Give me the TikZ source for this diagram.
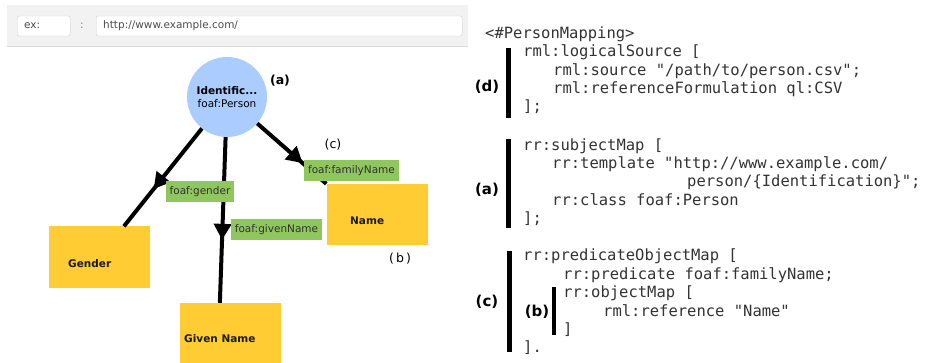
\documentclass[tikz,border=0pt]{standalone}
\usepackage{fontspec}
\setmainfont{DejaVu Sans}
\newfontfamily\codefont{DejaVu Sans Mono}
\usetikzlibrary{arrows.meta,decorations.markings,calc}

\definecolor{classblue}{RGB}{170,204,255}
\definecolor{propgreen}{RGB}{143,198,94}
\definecolor{fieldyellow}{RGB}{255,204,51}
\definecolor{barbg}{RGB}{242,242,242}

\begin{document}
\begin{tikzpicture}[
    x=1pt, y=-1pt,
    classnode/.style={circle, fill=classblue, minimum size=80pt, inner sep=0pt, align=center, font=\fontsize{10.5}{12.5}\selectfont},
    fieldbox/.style={rectangle, fill=fieldyellow, minimum width=101pt, minimum height=61pt, inner sep=0pt},
    fieldtext/.style={font=\fontsize{10.5}{12}\selectfont\bfseries, text=black!90, inner sep=0pt, anchor=west},
    prop/.style={rectangle, fill=propgreen, inner xsep=4pt, minimum height=21pt, font=\fontsize{10.5}{12}\selectfont, text=black!80},
    edge/.style={line width=4pt, black},
    mid arrow/.style={postaction={decorate}, decoration={markings, mark=at position #1 with {\arrow{Triangle[length=16pt,width=17pt]}}}},
    inputbox/.style={draw=gray!40, fill=white, rounded corners=2pt, minimum height=20pt, inner xsep=7pt, anchor=west, align=left, font=\fontsize{10.5}{12}\selectfont, text=black!70},
    tag/.style={font=\fontsize{12.5}{15}\selectfont, inner sep=0pt},
    code/.style={font=\codefont\fontsize{15.5}{18}\selectfont, anchor=west, inner sep=0pt, text height=11pt, text depth=3pt, text=black!80},
    blocktag/.style={font=\fontsize{15}{18}\selectfont\bfseries, inner sep=0pt},
]
\useasboundingbox (0,0) rectangle (928,363);

% --- prefix bar ---
\fill[barbg] (7,5) rectangle (468,46);
\draw[gray!30] (7,46) -- (468,46);
\node[inputbox, text width=39pt] (prefix) at (17,26) {ex:};
\node[tag, font=\fontsize{10.5}{12}\selectfont, text=black!50] (sep) at (82,26) {:};
\node[inputbox, text width=352pt] (baseuri) at (96,26) {http://www.example.com/};

% --- graph nodes ---
\node[classnode] (ident) at (227,97) {\textbf{Identific...}\\foaf:Person};
\node[fieldbox] (gender) at (99.5,257) {};
\node[fieldbox, minimum height=60pt] (given) at (230,333) {};
\node[fieldbox] (name) at (377,214.5) {};

\node[fieldtext] (genderLbl) at (68,264) {Gender};
\node[fieldtext] (givenLbl) at (184,339) {Given Name};
\node[fieldtext] (nameLbl) at (350,221) {Name};

% --- predicates ---
\draw[edge, mid arrow=0.62] (ident) -- (gender);
\draw[edge, mid arrow=0.62] (ident) -- ($(given.north west)!0.4!(given.north east)$);
\draw[edge, mid arrow=0.66] (ident) -- (name.north west);

\node[prop] (pgender) at (200,192) {foaf:gender};
\node[prop] (pgiven) at (276.5,229.5) {foaf:givenName};
\node[prop] (pfamily) at (351.5,170.5) {foaf:familyName};

\node[tag, font=\fontsize{12.5}{15}\selectfont\bfseries] (ta) at (280,81) {(a)};
\node[tag] (tc) at (333,145) {(c)};
\node[tag] (tb) at (400,259) {(\,b\,)};

% --- RML mapping ---
\node[code] (hdr) at (485,35) {<\#PersonMapping>};

\node[code] (d1) at (523,53) {rml:logicalSource [};
\node[code] (d2) at (553,72) {rml:source "/path/to/person.csv";};
\node[code] (d3) at (553,90) {rml:referenceFormulation ql:CSV};
\node[code] (d4) at (523,108) {];};

\node[code] (a1) at (523,147) {rr:subjectMap [};
\node[code] (a2) at (552,165) {rr:template "http://www.example.com/};
\node[code] (a3) at (687,183) {person/\{Identification\}";};
\node[code] (a4) at (552,202) {rr:class foaf:Person};
\node[code] (a5) at (523,220) {];};

\node[code] (c1) at (523,257) {rr:predicateObjectMap [};
\node[code] (c2) at (563,275) {rr:predicate foaf:familyName;};
\node[code] (c3) at (563,293) {rr:objectMap [};
\node[code] (c4) at (603,312) {rml:reference "Name"};
\node[code] (c5) at (563,330) {]};
\node[code] (c6) at (523,348) {].};

% block bars
\fill (506,48) rectangle (511,118);
\fill (506,139) rectangle (511,228);
\fill (507,251) rectangle (512,352);
\fill (552,287) rectangle (556,335);

\node[blocktag] (td) at (487,87) {(d)};
\node[blocktag] (tba) at (487,190) {(a)};
\node[blocktag] (tbc) at (487,302) {(c)};
\node[blocktag] (tbb) at (537,312) {(b)};

\end{tikzpicture}
\end{document}
